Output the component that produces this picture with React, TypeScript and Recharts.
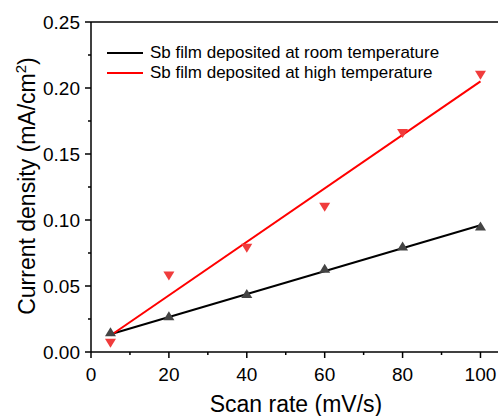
import React from 'react';
import { ComposedChart, Scatter, Line, XAxis, YAxis, ReferenceLine } from 'recharts';

const scanRate = [5, 20, 40, 60, 80, 100];
const roomTemp = [0.015, 0.027, 0.044, 0.063, 0.08, 0.095];
const highTemp = [0.007, 0.058, 0.079, 0.11, 0.166, 0.21];

// linear fit end points
const fitX = [5, 100];
const roomFit = [0.0135, 0.096];
const highFit = [0.0125, 0.205];

const xTicks = [0, 10, 20, 30, 40, 50, 60, 70, 80, 90, 100];
const yTicks = [0, 0.025, 0.05, 0.075, 0.1, 0.125, 0.15, 0.175, 0.2, 0.225, 0.25];

const FONT = '"Liberation Sans", Arial, sans-serif';

const roomPts = scanRate.map((x, i) => ({ x, y: roomTemp[i] }));
const highPts = scanRate.map((x, i) => ({ x, y: highTemp[i] }));
const roomLine = fitX.map((x, i) => ({ x, y: roomFit[i] }));
const highLine = fitX.map((x, i) => ({ x, y: highFit[i] }));

const UpTriangle = (p: any) => (
  <path d={`M${p.cx},${p.cy - 5} L${p.cx + 5.5},${p.cy + 4} L${p.cx - 5.5},${p.cy + 4} Z`} fill="#444" />
);
const DownTriangle = (p: any) => (
  <path d={`M${p.cx - 5.5},${p.cy - 4} L${p.cx + 5.5},${p.cy - 4} L${p.cx},${p.cy + 5} Z`} fill="#f03c3c" />
);

const XTick = ({ x, y, payload, index }: any) => {
  const major = index % 2 === 0;
  return (
    <g>
      <line x1={x} x2={x} y1={y} y2={y + (major ? 6 : 3)} stroke="#000" strokeWidth={1.5} />
      {major && (
        <text x={x} y={y + 22} textAnchor="middle" dominantBaseline="central" fontSize={19} fontFamily={FONT} fill="#000">
          {payload.value}
        </text>
      )}
    </g>
  );
};

const YTick = ({ x, y, payload, index }: any) => {
  const major = index % 2 === 0;
  return (
    <g>
      <line x1={x} x2={x - (major ? 6 : 3)} y1={y} y2={y} stroke="#000" strokeWidth={1.5} />
      {major && (
        <text x={x - 11} y={y} textAnchor="end" dominantBaseline="central" fontSize={19} fontFamily={FONT} fill="#000">
          {Number(payload.value).toFixed(2)}
        </text>
      )}
    </g>
  );
};

const legendItems = [
  { label: 'Sb film deposited at room temperature', color: '#000' },
  { label: 'Sb film deposited at high temperature', color: '#ff0000' },
];

export default function App() {
  return (
    <div style={{ position: 'absolute', left: 0, top: 0, width: 501, height: 416, background: '#fff' }}>
      <ComposedChart width={501} height={416} margin={{ top: 22, right: 3, bottom: 34, left: 31 }}>
        <XAxis
          type="number"
          dataKey="x"
          domain={[0, 104.5]}
          ticks={xTicks}
          interval={0}
          height={30}
          tickSize={0}
          tickMargin={0}
          tick={<XTick />}
          axisLine={{ stroke: '#000', strokeWidth: 1.5 }}
          tickLine={false}
        />
        <YAxis
          type="number"
          dataKey="y"
          domain={[0, 0.25]}
          ticks={yTicks}
          interval={0}
          width={60}
          tickSize={0}
          tickMargin={0}
          tick={<YTick />}
          axisLine={{ stroke: '#000', strokeWidth: 1.5 }}
          tickLine={false}
        />
        <ReferenceLine y={0.25} stroke="#000" strokeWidth={1.5} />
        <Scatter data={roomPts} shape={<UpTriangle />} isAnimationActive={false} />
        <Scatter data={highPts} shape={<DownTriangle />} isAnimationActive={false} />
        <Line data={roomLine} dataKey="y" type="linear" stroke="#000" strokeWidth={2} dot={false} isAnimationActive={false} />
        <Line data={highLine} dataKey="y" type="linear" stroke="#ff0000" strokeWidth={2} dot={false} isAnimationActive={false} />
      </ComposedChart>
      <div style={{ position: 'absolute', left: 107, top: 43, fontFamily: FONT, fontSize: 17, lineHeight: '20px' }}>
        {legendItems.map((it) => (
          <div key={it.label} style={{ display: 'flex', alignItems: 'center', height: 20 }}>
            <svg width={43} height={20}>
              <line x1={0} x2={36} y1={10} y2={10} stroke={it.color} strokeWidth={2} />
            </svg>
            <span>{it.label}</span>
          </div>
        ))}
      </div>
      <div style={{ position: 'absolute', left: 91, width: 410, top: 391, textAlign: 'center', fontFamily: FONT, fontSize: 23, lineHeight: '26px' }}>
        Scan rate (mV/s)
      </div>
      <div
        style={{
          position: 'absolute', left: 27, top: 186, width: 320, marginLeft: -160, marginTop: -13,
          transform: 'rotate(-90deg)', textAlign: 'center', fontFamily: FONT, fontSize: 23, lineHeight: '26px', whiteSpace: 'nowrap',
        }}
      >
        Current density (mA/cm<sup style={{ fontSize: 15, lineHeight: 0 }}>2</sup>)
      </div>
    </div>
  );
}
